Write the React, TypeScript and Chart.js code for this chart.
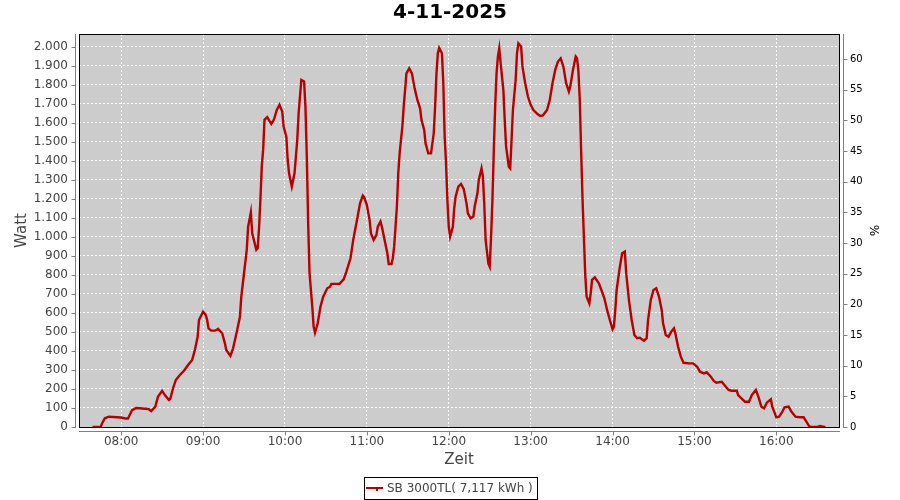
import React, { useEffect, useRef } from 'react';
import { Chart, registerables } from 'chart.js';

Chart.register(...registerables);

const chartTitle = '4-11-2025';
const seriesLabel = 'SB 3000TL( 7,117 kWh )';
const xTitle = 'Zeit';
const yTitle = 'Watt';
const y1Title = '%';

const xTicks = ['08:00', '09:00', '10:00', '11:00', '12:00', '13:00', '14:00', '15:00', '16:00'];
const yTicks = [0, 100, 200, 300, 400, 500, 600, 700, 800, 900, 1000, 1100, 1200, 1300, 1400, 1500, 1600, 1700, 1800, 1900, 2000];
const y1Ticks = [0, 5, 10, 15, 20, 25, 30, 35, 40, 45, 50, 55, 60];

const times = [
  '07:39', '07:45', '07:46', '07:48', '07:51', '08:00', '08:03', '08:05', '08:08', '08:11',
  '08:20', '08:22', '08:25', '08:27', '08:30', '08:32', '08:35', '08:36', '08:38', '08:40',
  '08:43', '08:46', '08:49', '08:52', '08:54', '08:56', '08:57', '09:00', '09:02', '09:03',
  '09:04', '09:06', '09:09', '09:11', '09:14', '09:16', '09:17', '09:20', '09:22', '09:25',
  '09:27', '09:28', '09:30', '09:32', '09:33', '09:35', '09:36', '09:39', '09:40', '09:41',
  '09:42', '09:43', '09:44', '09:45', '09:47', '09:50', '09:52', '09:54', '09:56', '09:58',
  '09:59', '10:01', '10:02', '10:03', '10:05', '10:07', '10:09', '10:10', '10:12', '10:14',
  '10:15', '10:16', '10:17', '10:18', '10:20', '10:21', '10:22', '10:24', '10:26', '10:28',
  '10:31', '10:33', '10:34', '10:40', '10:43', '10:45', '10:48', '10:50', '10:53', '10:55',
  '10:57', '10:58', '11:00', '11:02', '11:03', '11:05', '11:07', '11:08', '11:10', '11:11',
  '11:13', '11:15', '11:16', '11:18', '11:19', '11:20', '11:21', '11:22', '11:23', '11:24',
  '11:26', '11:27', '11:28', '11:29', '11:31', '11:33', '11:35', '11:37', '11:39', '11:40',
  '11:42', '11:43', '11:45', '11:47', '11:49', '11:50', '11:51', '11:52', '11:53', '11:55',
  '11:56', '11:57', '11:58', '11:59', '12:00', '12:01', '12:03', '12:04', '12:05', '12:07',
  '12:09', '12:11', '12:13', '12:14', '12:16', '12:18', '12:19', '12:21', '12:22', '12:24',
  '12:25', '12:26', '12:27', '12:29', '12:30', '12:31', '12:32', '12:33', '12:34', '12:35',
  '12:36', '12:37', '12:38', '12:40', '12:41', '12:42', '12:44', '12:45', '12:46', '12:47',
  '12:49', '12:50', '12:51', '12:53', '12:54', '12:56', '12:58', '13:00', '13:02', '13:05',
  '13:07', '13:09', '13:12', '13:14', '13:16', '13:18', '13:20', '13:22', '13:24', '13:26',
  '13:28', '13:29', '13:31', '13:33', '13:34', '13:35', '13:36', '13:37', '13:38', '13:39',
  '13:40', '13:41', '13:43', '13:44', '13:45', '13:47', '13:50', '13:52', '13:54', '13:56',
  '13:58', '14:00', '14:01', '14:02', '14:03', '14:05', '14:07', '14:09', '14:10', '14:12',
  '14:14', '14:16', '14:18', '14:20', '14:23', '14:25', '14:26', '14:28', '14:30', '14:32',
  '14:34', '14:36', '14:37', '14:39', '14:41', '14:43', '14:45', '14:46', '14:48', '14:50',
  '14:52', '14:56', '14:59', '15:02', '15:04', '15:07', '15:09', '15:12', '15:14', '15:16',
  '15:20', '15:23', '15:25', '15:27', '15:31', '15:32', '15:35', '15:37', '15:40', '15:42',
  '15:45', '15:47', '15:49', '15:51', '15:53', '15:56', '15:57', '16:00', '16:02', '16:04',
  '16:06', '16:09', '16:11', '16:14', '16:17', '16:20', '16:22', '16:24', '16:25', '16:30',
  '16:32', '16:35', '16:36',
];

const watts = [
  0, 0, 19, 46, 54, 50, 45, 45, 89, 100,
  95, 84, 107, 160, 190, 168, 142, 148, 204, 247,
  274, 296, 326, 353, 405, 475, 563, 607, 589, 563,
  519, 507, 507, 517, 493, 440, 405, 374, 414, 510,
  580, 686, 809, 932, 1054, 1130, 1019, 932, 940, 1045,
  1195, 1370, 1458, 1616, 1630, 1595, 1619, 1668, 1695, 1660,
  1581, 1528, 1405, 1335, 1265, 1335, 1510, 1651, 1826, 1818,
  1686, 1423, 1072, 809, 633, 528, 496, 546, 633, 686,
  730, 738, 753, 753, 777, 818, 888, 984, 1098, 1177,
  1218, 1210, 1168, 1089, 1019, 984, 1011, 1054, 1081, 1054,
  984, 914, 858, 858, 888, 949, 1054, 1160, 1335, 1440,
  1581, 1686, 1774, 1861, 1888, 1861, 1782, 1721, 1677, 1616,
  1563, 1493, 1440, 1440, 1546, 1686, 1861, 1967, 1995, 1967,
  1809, 1528, 1388, 1195, 1054, 1002, 1054, 1150, 1212, 1265,
  1279, 1251, 1177, 1124, 1098, 1107, 1160, 1230, 1300, 1361,
  1317, 1177, 984, 861, 844, 1002, 1195, 1458, 1686, 1861,
  1949, 1993, 1914, 1774, 1616, 1475, 1370, 1361, 1510, 1668,
  1826, 1967, 2019, 2002, 1896, 1809, 1739, 1695, 1668, 1647,
  1637, 1640, 1668, 1721, 1809, 1879, 1923, 1940, 1896, 1809,
  1765, 1791, 1879, 1949, 1940, 1870, 1720, 1450, 1200, 1000,
  800, 686, 651, 704, 774, 788, 756, 717, 677, 616,
  563, 514, 528, 616, 721, 826, 914, 923, 809, 668,
  563, 484, 467, 470, 454, 467, 563, 668, 721, 730,
  686, 616, 546, 484, 475, 502, 519, 493, 423, 370,
  338, 335, 335, 317, 291, 282, 288, 265, 244, 233,
  238, 212, 195, 191, 191, 168, 147, 133, 133, 168,
  195, 156, 107, 98, 128, 146, 107, 51, 54, 75,
  104, 107, 81, 54, 51, 51, 28, 5, 0, 0,
  5, 0, 0,
];

const FONT = 'DejaVu Sans';
const LINE_COLOR = '#b80000';
const AXIS_GRAY = '#808080';

const toMin = (s: string) => {
  const [h, m] = s.split(':').map(Number);
  return h * 60 + m;
};
const fmtTime = (v: number) =>
  `${String(Math.floor(v / 60)).padStart(2, '0')}:${String(Math.round(v % 60)).padStart(2, '0')}`;
const fmtThousands = (v: number) => String(v).replace(/\B(?=(\d{3})+(?!\d))/g, '.');

const framePlugin = {
  id: 'frame',
  beforeDraw(chart: any) {
    const { ctx, chartArea: a } = chart;
    ctx.save();
    ctx.fillStyle = '#ffffff';
    ctx.fillRect(0, 0, chart.width, chart.height);
    ctx.fillStyle = '#cccccc';
    ctx.fillRect(a.left, a.top, a.right - a.left, a.bottom - a.top);
    ctx.restore();
  },
  afterDraw(chart: any) {
    const { ctx, chartArea: a, scales } = chart;
    ctx.save();
    ctx.strokeStyle = '#000000';
    ctx.lineWidth = 1;
    ctx.strokeRect(a.left + 0.5, a.top + 0.5, a.right - a.left, a.bottom - a.top);

    ctx.strokeStyle = AXIS_GRAY;
    ctx.beginPath();
    const lx = a.left - 3.5;
    ctx.moveTo(lx, a.top);
    ctx.lineTo(lx, a.bottom + 1);
    scales.y.ticks.forEach((t: any) => {
      const py = Math.round(scales.y.getPixelForValue(t.value)) + 0.5;
      ctx.moveTo(lx - 4, py);
      ctx.lineTo(lx, py);
    });
    const rx = a.right + 4.5;
    ctx.moveTo(rx, a.top);
    ctx.lineTo(rx, a.bottom + 1);
    scales.y1.ticks.forEach((t: any) => {
      const py = Math.round(scales.y1.getPixelForValue(t.value)) + 0.5;
      ctx.moveTo(rx, py);
      ctx.lineTo(rx + 4, py);
    });
    const by = a.bottom + 4.5;
    ctx.moveTo(a.left, by);
    ctx.lineTo(a.right + 1, by);
    scales.x.ticks.forEach((t: any) => {
      const px = Math.round(scales.x.getPixelForValue(t.value)) + 0.5;
      ctx.moveTo(px, by);
      ctx.lineTo(px, by + 4);
    });
    ctx.stroke();

    const ds = chart.data.datasets[0];
    ctx.font = `12px "${FONT}"`;
    const tw = ctx.measureText(ds.label).width;
    const w = Math.round(tw + 27);
    const h = 22;
    const x0 = Math.round(chart.width / 2 - w / 2);
    const y0 = 477;
    ctx.strokeStyle = '#000000';
    ctx.lineWidth = 1;
    ctx.strokeRect(x0 + 0.5, y0 + 0.5, w, h);
    const cy = y0 + 11;
    ctx.strokeStyle = ds.borderColor;
    ctx.lineWidth = 2;
    ctx.beginPath();
    ctx.moveTo(x0 + 2, cy);
    ctx.lineTo(x0 + 19, cy);
    ctx.stroke();
    ctx.fillStyle = ds.borderColor;
    ctx.fillRect(x0 + 12, cy, 2, 3);
    ctx.fillStyle = '#444444';
    ctx.textBaseline = 'middle';
    ctx.textAlign = 'left';
    ctx.fillText(ds.label, x0 + 23, cy + 1);
    ctx.restore();
  },
};

export default function App() {
  const ref = useRef<HTMLCanvasElement | null>(null);

  useEffect(() => {
    document.body.style.margin = '0';
    const canvas = ref.current;
    if (!canvas) return;
    const points = times.map((t, i) => ({ x: toMin(t), y: watts[i] }));

    const chart = new Chart(canvas, {
      type: 'line',
      data: {
        datasets: [
          {
            label: seriesLabel,
            data: points,
            borderColor: LINE_COLOR,
            backgroundColor: LINE_COLOR,
            borderWidth: 2.4,
            pointRadius: 0,
            tension: 0,
            fill: false,
            yAxisID: 'y',
          },
        ],
      },
      options: {
        animation: false,
        responsive: false,
        devicePixelRatio: 1,
        events: [],
        layout: { padding: { top: 0, left: 0, right: 0, bottom: 28 } },
        plugins: {
          legend: { display: false },
          tooltip: { enabled: false },
          title: {
            display: true,
            text: chartTitle,
            color: '#000000',
            font: { family: FONT, size: 20, weight: 'bold' },
            padding: { top: 1, bottom: 9 },
          },
        },
        scales: {
          x: {
            type: 'linear',
            min: 449.1,
            max: 1005.9,
            bounds: 'data',
            afterBuildTicks: (s: any) => {
              s.ticks = xTicks.map((t) => ({ value: toMin(t) }));
            },
            ticks: {
              autoSkip: false,
              maxRotation: 0,
              padding: 8,
              color: '#444444',
              font: { family: FONT, size: 12 },
              callback: (v: any) => fmtTime(Number(v)),
            },
            grid: { color: '#ffffff', lineWidth: 1, drawTicks: false },
            border: { display: false, dash: [2, 2] },
            title: {
              display: true,
              text: xTitle,
              color: '#444444',
              font: { family: FONT, size: 15 },
              padding: { top: 0, bottom: 3 },
            },
            afterFit: (s: any) => {
              s.height = 45;
            },
          },
          y: {
            type: 'linear',
            position: 'left',
            min: 0,
            max: 2068,
            bounds: 'data',
            afterBuildTicks: (s: any) => {
              s.ticks = yTicks.map((v) => ({ value: v }));
            },
            ticks: {
              autoSkip: false,
              padding: 11,
              color: '#444444',
              font: { family: FONT, size: 12 },
              callback: (v: any) => fmtThousands(Number(v)),
            },
            grid: { color: '#ffffff', lineWidth: 1, drawTicks: false },
            border: { display: false, dash: [2, 2] },
            title: {
              display: true,
              text: yTitle,
              color: '#444444',
              font: { family: FONT, size: 15 },
              padding: { top: 13, bottom: 0 },
            },
            afterFit: (s: any) => {
              s.width = 79;
            },
          },
          y1: {
            type: 'linear',
            position: 'right',
            min: 0,
            max: 64.1,
            bounds: 'data',
            afterBuildTicks: (s: any) => {
              s.ticks = y1Ticks.map((v) => ({ value: v }));
            },
            ticks: {
              autoSkip: false,
              padding: 11,
              color: '#000000',
              font: { family: FONT, size: 10 },
            },
            grid: { display: false, drawTicks: false },
            border: { display: false },
            title: {
              display: true,
              text: y1Title,
              color: '#000000',
              font: { family: FONT, size: 12 },
              padding: { top: 20, bottom: 0 },
            },
            afterFit: (s: any) => {
              s.width = 61;
            },
          },
        },
      },
      plugins: [framePlugin],
    });

    return () => chart.destroy();
  }, []);

  return (
    <div style={{ width: 900, height: 500 }}>
      <canvas ref={ref} width={900} height={500} style={{ display: 'block' }} />
    </div>
  );
}
